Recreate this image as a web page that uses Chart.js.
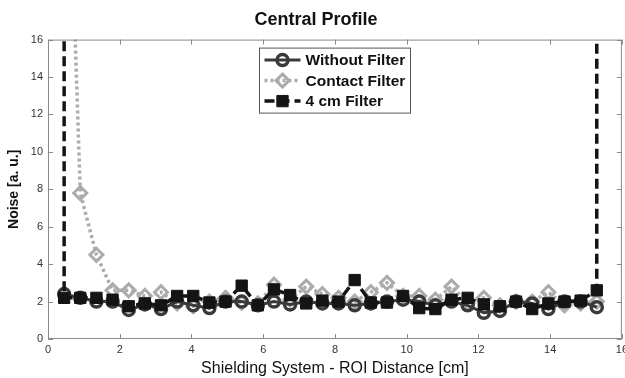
<!DOCTYPE html>
<html>
<head>
<meta charset="utf-8">
<script src="https://cdn.jsdelivr.net/npm/chart.js@4.4.1/dist/chart.umd.min.js"></script>
<style>
  html, body { margin: 0; padding: 0; background: #fff; overflow: hidden; }
  #wrap { width: 625px; height: 378px; overflow: hidden; }
</style>
</head>
<body>
<div id="wrap"><canvas id="profileCanvas" width="632" height="378"></canvas></div>
<script>
// distance from shielding system [cm]
const distances = [0.45, 0.9, 1.35, 1.8, 2.25, 2.7, 3.15, 3.6, 4.05, 4.5, 4.95, 5.4, 5.85, 6.3, 6.75, 7.2, 7.65,
  8.1, 8.55, 9.0, 9.45, 9.9, 10.35, 10.8, 11.25, 11.7, 12.15, 12.6, 13.05, 13.5, 13.95, 14.4, 14.85, 15.3];

const withoutFilter = [2.4, 2.2, 2.0, 2.0, 1.55, 1.85, 1.6, 2.0, 1.8, 1.65, 2.0, 2.0, 1.8, 2.0, 1.85, 2.0, 1.9,
  1.9, 1.8, 1.9, 2.0, 2.1, 2.0, 1.8, 2.0, 1.8, 1.4, 1.5, 2.0, 1.9, 1.6, 2.0, 2.0, 1.7];

const contactFilter = [34, 7.8, 4.5, 2.6, 2.6, 2.3, 2.5, 1.9, 1.75, 2.0, 2.2, 1.95, 1.9, 2.9, 2.1, 2.8, 2.4,
  2.2, 2.0, 2.5, 3.0, 2.3, 2.3, 2.1, 2.8, 1.9, 2.2, 1.8, 2.0, 2.0, 2.5, 1.8, 1.9, 2.0];

// 4 cm filter shoots off the top at both ends
const fourCmX = [0.45, 0.45, 0.9, 1.35, 1.8, 2.25, 2.7, 3.15, 3.6, 4.05, 4.5, 4.95, 5.4, 5.85, 6.3, 6.75, 7.2, 7.65,
  8.1, 8.55, 9.0, 9.45, 9.9, 10.35, 10.8, 11.25, 11.7, 12.15, 12.6, 13.05, 13.5, 13.95, 14.4, 14.85, 15.3, 15.3];
const fourCmFilter = [60, 2.2, 2.2, 2.2, 2.1, 1.75, 1.9, 1.8, 2.3, 2.3, 1.95, 2.0, 2.85, 1.8, 2.65, 2.35, 1.9, 2.05,
  2.0, 3.15, 1.95, 1.95, 2.3, 1.65, 1.6, 2.1, 2.2, 1.85, 1.75, 2.0, 1.6, 1.9, 2.0, 2.05, 2.6, 60];

const xTicks = [0, 2, 4, 6, 8, 10, 12, 14, 16];
const yTicks = [0, 2, 4, 6, 8, 10, 12, 14, 16];

const FONT = '"Liberation Sans", Arial, sans-serif';
const AXIS_GRAY = '#8a8a8a';

function pts(xs, ys) {
  return xs.map((x, i) => ({ x: x, y: ys[i] }));
}

function marker(ctx, ds, x, y) {
  ctx.save();
  ctx.fillStyle = ds.pointBackgroundColor;
  ctx.strokeStyle = ds.pointBorderColor;
  ctx.lineWidth = ds.pointBorderWidth;
  ctx.setLineDash([]);
  ctx.beginPath();
  const r = ds.pointRadius;
  if (ds.pointStyle === 'circle') {
    ctx.arc(x, y, r, 0, Math.PI * 2);
  } else if (ds.pointStyle === 'rectRot') {
    ctx.moveTo(x, y - r); ctx.lineTo(x + r, y);
    ctx.lineTo(x, y + r); ctx.lineTo(x - r, y); ctx.closePath();
  } else {
    const s = r * Math.SQRT1_2;
    ctx.rect(x - s, y - s, 2 * s, 2 * s);
  }
  ctx.fill();
  ctx.stroke();
  ctx.restore();
}

// matlab-like box with inward ticks, plus the boxed legend
const boxPlugin = {
  id: 'boxPlugin',
  afterDatasetsDraw(chart) {
    const { ctx, chartArea: a, scales } = chart;
    ctx.save();
    ctx.strokeStyle = AXIS_GRAY;
    ctx.lineWidth = 1;
    ctx.strokeRect(a.left + 0.5, a.top + 0.5, a.right - a.left - 1, a.bottom - a.top - 1);
    ctx.beginPath();
    xTicks.forEach(v => {
      const px = Math.round(scales.x.getPixelForValue(v)) + 0.5;
      ctx.moveTo(px, a.bottom); ctx.lineTo(px, a.bottom - 5);
      ctx.moveTo(px, a.top); ctx.lineTo(px, a.top + 5);
    });
    yTicks.forEach(v => {
      const py = Math.round(scales.y.getPixelForValue(v)) + 0.5;
      ctx.moveTo(a.left, py); ctx.lineTo(a.left + 5, py);
      ctx.moveTo(a.right, py); ctx.lineTo(a.right - 5, py);
    });
    ctx.stroke();
    ctx.restore();
  },
  afterDraw(chart) {
    const { ctx, chartArea: a } = chart;
    const w = 151, h = 65;
    const left = Math.round((a.left + a.right) / 2 - w / 2) + 0.5;
    const top = a.top + 8.5;
    ctx.save();
    ctx.fillStyle = '#fff';
    ctx.fillRect(left, top, w, h);
    ctx.strokeStyle = '#555';
    ctx.lineWidth = 1;
    ctx.strokeRect(left, top, w, h);
    chart.data.datasets.forEach((ds, i) => {
      const y = top + 12 + i * 20.5;
      ctx.save();
      ctx.strokeStyle = ds.borderColor;
      ctx.lineWidth = ds.borderWidth;
      ctx.setLineDash(ds.borderDash || []);
      ctx.beginPath();
      ctx.moveTo(left + 5, y);
      ctx.lineTo(left + 41, y);
      ctx.stroke();
      ctx.restore();
      marker(ctx, ds, left + 23, y);
      ctx.fillStyle = '#111';
      ctx.font = 'bold 15.5px ' + FONT;
      ctx.textBaseline = 'middle';
      ctx.textAlign = 'left';
      ctx.fillText(ds.label, left + 46, y + 1);
    });
    ctx.restore();
  }
};

const profileCtx = document.getElementById('profileCanvas').getContext('2d');
const profileChart = new Chart(profileCtx, {
  type: 'line',
  data: {
    datasets: [
      {
        label: 'Without Filter',
        data: pts(distances, withoutFilter),
        borderColor: '#3a3a3a',
        borderWidth: 3,
        pointStyle: 'circle',
        pointRadius: 5.5,
        pointBorderWidth: 3.5,
        pointBorderColor: '#3a3a3a',
        pointBackgroundColor: 'rgba(255,255,255,0)',
        order: 1
      },
      {
        label: 'Contact Filter',
        data: pts(distances, contactFilter),
        borderColor: '#ababab',
        borderWidth: 3.5,
        borderDash: [3, 3],
        pointStyle: 'rectRot',
        pointRadius: 6.5,
        pointBorderWidth: 3,
        pointBorderColor: '#ababab',
        pointBackgroundColor: 'rgba(255,255,255,0)',
        order: 2
      },
      {
        label: '4 cm Filter',
        data: pts(fourCmX, fourCmFilter),
        borderColor: '#141414',
        borderWidth: 3.5,
        borderDash: [10, 5],
        pointStyle: 'rect',
        pointRadius: 8,
        pointBorderWidth: 1,
        pointBorderColor: '#141414',
        pointBackgroundColor: '#141414',
        order: 0
      }
    ]
  },
  options: {
    responsive: false,
    animation: false,
    layout: { padding: { left: 0, right: 0, top: 0, bottom: 0 } },
    plugins: {
      legend: { display: false },
      tooltip: { enabled: false },
      title: {
        display: true,
        text: 'Central Profile',
        color: '#111',
        font: { family: FONT, size: 18, weight: 'bold' },
        padding: { top: 9, bottom: 9 }
      }
    },
    scales: {
      x: {
        type: 'linear',
        min: 0,
        max: 16,
        afterBuildTicks(scale) { scale.ticks = xTicks.map(v => ({ value: v })); },
        afterFit(scale) { scale.height = 39; },
        grid: { drawOnChartArea: false, drawTicks: false },
        border: { display: false },
        ticks: { color: '#333', font: { family: FONT, size: 11 }, padding: 4, maxRotation: 0 },
        title: {
          display: true,
          text: 'Shielding System - ROI Distance [cm]',
          color: '#111',
          font: { family: FONT, size: 16 },
          padding: { top: 0, bottom: 0 }
        }
      },
      y: {
        min: 0,
        max: 16,
        afterBuildTicks(scale) { scale.ticks = yTicks.map(v => ({ value: v })); },
        afterFit(scale) { scale.width = 48; },
        grid: { drawOnChartArea: false, drawTicks: false },
        border: { display: false },
        ticks: { color: '#333', font: { family: FONT, size: 11 }, padding: 5 },
        title: {
          display: true,
          text: 'Noise [a. u.]',
          color: '#111',
          font: { family: FONT, size: 14, weight: 'bold' },
          padding: { top: 6, bottom: 0 }
        }
      }
    }
  },
  plugins: [boxPlugin]
});
</script>
</body>
</html>
